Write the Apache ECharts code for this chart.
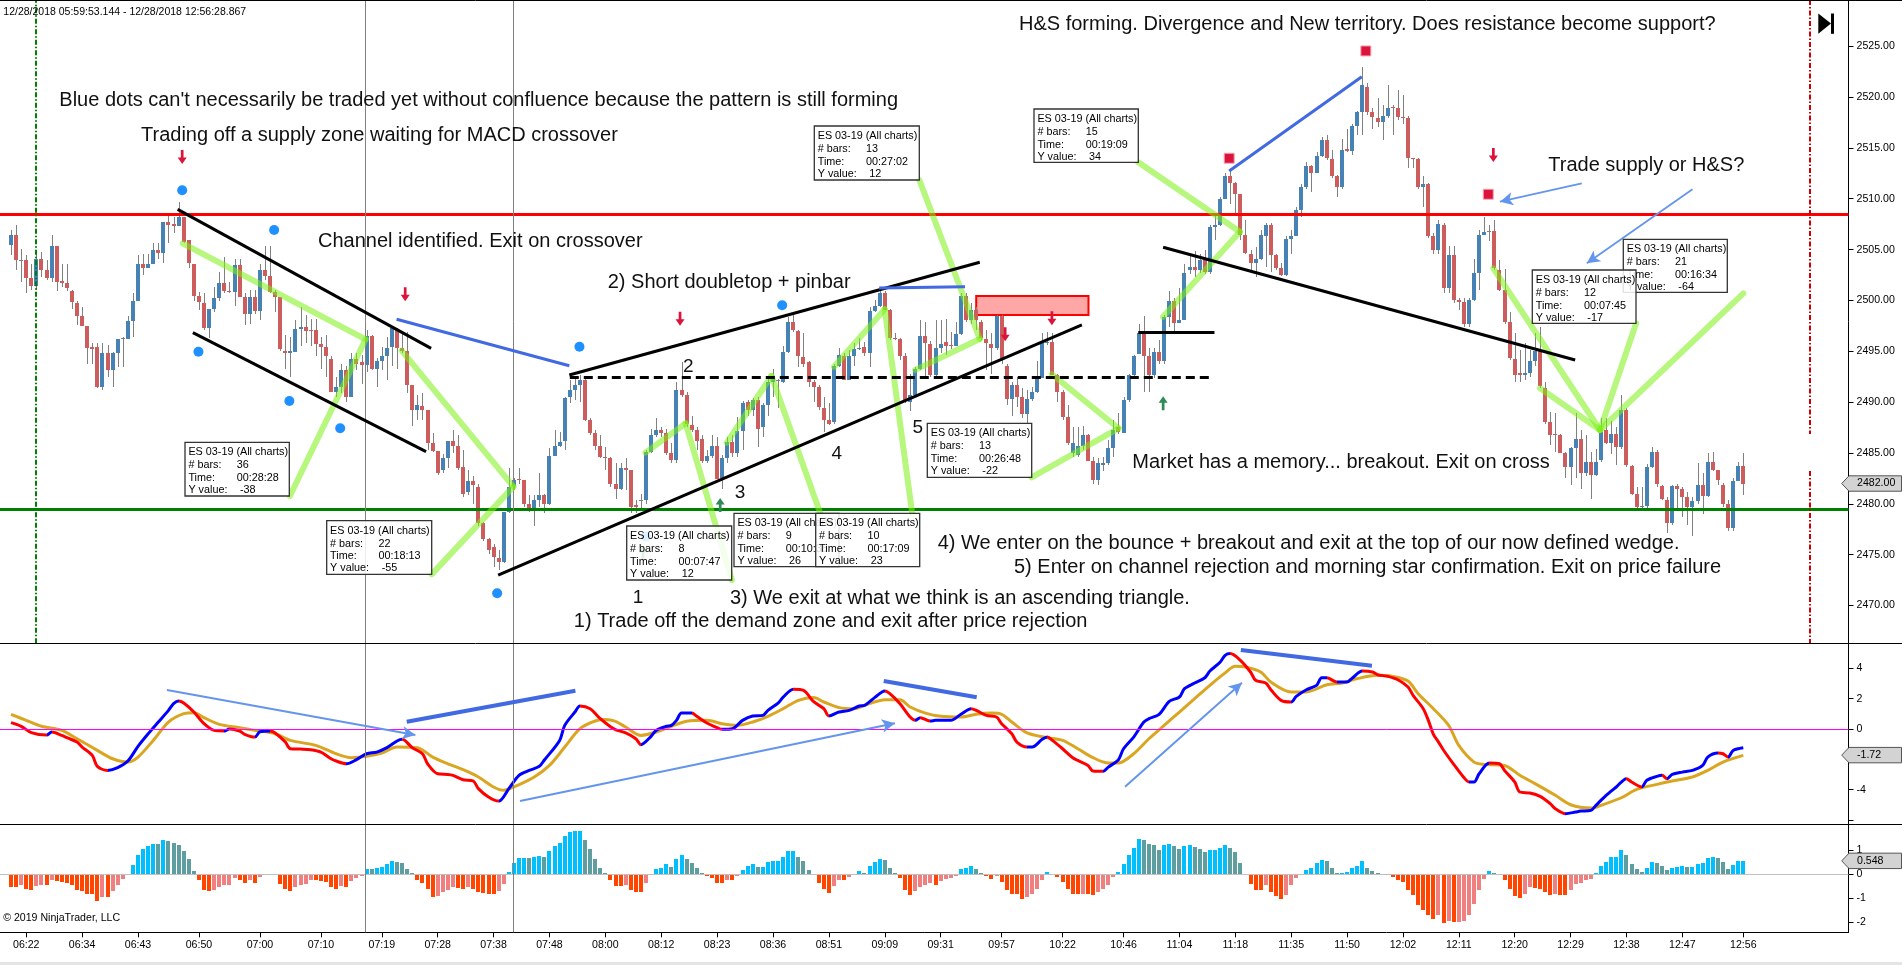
<!DOCTYPE html>
<html><head><meta charset="utf-8">
<script src="https://cdn.jsdelivr.net/npm/echarts@6/dist/echarts.min.js"></script>
<style>html,body{margin:0;padding:0;background:#fff}#c{width:1902px;height:965px}</style>
</head><body><div id="c"></div>
<script>
// ---------- DATA ----------
// candles: [open, close, low, high] per bar (index 0..341)
const candles = [
[2505.5,2506.4,2504.5,2506.9],[2506.4,2504.0,2503.0,2507.4],[2504.0,2504.0,2501.8,2505.1],[2504.0,2502.2,2500.7,2504.5],[2502.2,2501.4,2501.0,2503.6],
[2501.4,2504.1,2501.0,2504.8],[2504.1,2503.0,2502.3,2504.8],[2503.0,2502.2,2502.0,2504.0],[2502.2,2505.4,2501.8,2506.4],[2505.4,2501.8,2500.9,2505.4],
[2501.9,2501.7,2501.3,2503.6],[2501.7,2501.2,2500.9,2503.6],[2500.9,2499.8,2499.2,2501.0],[2499.7,2498.5,2497.6,2499.9],[2498.5,2497.5,2497.5,2499.4],
[2497.5,2495.3,2493.8,2497.5],[2495.4,2495.2,2493.8,2495.8],[2495.4,2491.5,2491.4,2495.8],[2491.5,2494.8,2491.2,2495.8],[2494.8,2493.2,2492.5,2495.6],
[2493.2,2494.8,2491.5,2494.9],[2494.8,2496.2,2493.5,2496.2],[2496.3,2496.3,2493.5,2496.4],[2496.2,2498.0,2496.2,2498.5],[2498.0,2499.9,2496.4,2500.7],
[2499.9,2503.6,2499.9,2504.5],[2503.6,2503.2,2502.5,2504.6],[2503.2,2503.6,2503.2,2504.6],[2503.6,2505.0,2503.6,2505.6],[2505.0,2504.7,2504.1,2505.6],
[2504.7,2507.7,2503.7,2507.7],[2507.7,2507.4,2505.6,2508.4],[2507.5,2507.3,2506.6,2508.2],[2507.3,2508.2,2507.3,2509.7],[2508.2,2505.7,2505.6,2508.2],
[2505.9,2503.7,2503.2,2505.9],[2503.6,2500.4,2499.9,2503.6],[2500.4,2499.8,2499.1,2500.8],[2499.7,2497.3,2497.1,2500.7],[2497.3,2499.2,2496.3,2499.2],
[2499.2,2500.2,2498.9,2501.3],[2500.2,2501.7,2499.9,2502.8],[2501.7,2500.9,2500.7,2504.3],[2500.9,2500.8,2500.7,2501.8],[2500.8,2503.5,2499.5,2504.1],
[2503.5,2500.3,2500.3,2504.1],[2500.3,2498.7,2497.6,2500.7],[2498.7,2500.3,2497.7,2501.0],[2500.3,2499.0,2498.7,2501.0],[2499.0,2503.0,2498.1,2503.6],
[2503.0,2502.4,2502.0,2505.4],[2502.4,2500.8,2500.7,2505.4],[2500.8,2500.3,2498.9,2501.0],[2500.3,2495.2,2495.0,2500.3],[2495.0,2494.8,2493.3,2496.6],
[2494.8,2495.0,2492.5,2496.4],[2494.9,2497.2,2494.9,2498.1],[2497.2,2497.4,2495.5,2499.4],[2497.4,2497.0,2495.8,2498.6],[2497.1,2497.0,2495.5,2498.2],
[2497.1,2495.7,2494.5,2498.2],[2495.7,2495.4,2493.3,2496.4],[2495.4,2494.5,2492.5,2496.6],[2494.2,2491.0,2491.0,2494.5],[2491.0,2491.5,2490.5,2492.5],
[2491.5,2493.2,2490.9,2493.8],[2493.2,2490.5,2490.0,2493.6],[2490.5,2494.2,2490.5,2494.8],[2494.2,2493.8,2493.2,2494.8],[2493.9,2493.7,2491.8,2494.6],
[2493.7,2496.5,2493.0,2497.1],[2496.5,2493.3,2493.2,2496.6],[2493.3,2494.0,2491.5,2494.3],[2494.0,2494.5,2493.2,2495.4],[2494.5,2495.3,2492.2,2496.4],
[2495.4,2497.3,2493.6,2497.3],[2497.1,2495.3,2493.3,2497.3],[2495.3,2495.0,2494.8,2496.9],[2495.0,2491.7,2490.9,2496.9],[2491.7,2489.2,2487.7,2491.7],
[2489.2,2489.7,2488.2,2490.7],[2489.6,2489.2,2488.2,2490.9],[2489.2,2486.0,2485.3,2489.2],[2486.0,2485.2,2485.1,2487.0],[2485.2,2483.0,2482.8,2485.2],
[2483.3,2484.5,2483.0,2484.9],[2484.5,2486.2,2483.5,2486.2],[2486.2,2485.7,2485.0,2487.3],[2485.7,2483.5,2483.3,2486.8],[2483.6,2481.0,2480.7,2485.3],
[2481.2,2482.2,2480.9,2483.3],[2482.2,2481.9,2480.0,2482.7],[2481.7,2478.1,2477.8,2482.0],[2478.1,2476.5,2476.3,2478.2],[2476.5,2475.5,2475.1,2476.6],
[2475.8,2474.8,2473.8,2476.1],[2474.7,2474.3,2473.5,2475.5],[2474.3,2479.2,2474.2,2479.2],[2479.2,2481.7,2479.1,2483.5],[2481.8,2482.3,2481.4,2482.5],
[2482.4,2482.3,2482.0,2483.5],[2482.3,2480.0,2479.7,2482.3],[2480.0,2479.3,2479.2,2480.9],[2479.3,2480.4,2477.8,2480.9],[2480.4,2480.9,2479.7,2483.0],
[2480.9,2480.0,2479.1,2481.0],[2480.0,2484.7,2479.9,2485.5],[2484.7,2485.7,2484.7,2487.3],[2485.7,2486.1,2485.6,2487.1],[2486.2,2490.4,2485.3,2490.5],
[2490.5,2491.2,2489.9,2492.2],[2491.2,2491.7,2490.2,2492.5],[2491.7,2492.2,2490.0,2492.7],[2492.2,2488.2,2488.1,2492.3],[2488.2,2487.0,2486.8,2488.4],
[2487.0,2485.7,2485.3,2487.3],[2485.7,2484.6,2484.5,2486.8],[2484.6,2484.5,2483.3,2485.6],[2484.5,2482.0,2481.7,2484.6],[2482.0,2481.5,2480.5,2484.0],
[2481.5,2483.5,2481.4,2484.0],[2483.5,2483.3,2481.4,2484.5],[2483.3,2479.7,2479.1,2483.3],[2479.9,2479.7,2479.1,2480.4],[2480.4,2480.4,2479.6,2481.0],
[2480.4,2485.1,2480.0,2485.3],[2485.1,2486.8,2485.0,2487.4],[2486.8,2487.3,2486.6,2488.4],[2487.3,2487.0,2486.6,2487.6],[2487.0,2485.0,2484.8,2487.4],
[2485.0,2484.3,2484.0,2486.0],[2484.3,2491.2,2484.0,2492.0],[2491.2,2490.7,2490.5,2493.9],[2490.7,2487.9,2487.6,2491.0],[2487.8,2487.3,2487.1,2488.6],
[2487.3,2486.2,2485.3,2487.6],[2486.4,2484.2,2484.0,2486.8],[2484.2,2484.7,2484.0,2485.3],[2484.7,2485.7,2484.5,2486.8],[2485.7,2482.4,2482.4,2486.6],
[2482.5,2484.5,2481.5,2484.8],[2484.5,2486.1,2484.0,2486.6],[2486.1,2485.0,2484.6,2486.8],[2485.0,2487.2,2484.6,2488.5],[2487.2,2489.9,2485.3,2490.1],
[2490.0,2489.2,2488.6,2490.2],[2489.2,2490.2,2488.6,2490.4],[2490.2,2487.4,2485.6,2490.5],[2487.6,2489.7,2486.6,2489.9],[2489.7,2492.0,2488.6,2492.3],
[2492.0,2492.6,2490.5,2493.3],[2492.2,2492.2,2489.4,2492.3],[2492.0,2494.9,2491.9,2495.5],[2494.9,2497.9,2494.8,2498.4],[2497.9,2497.1,2496.9,2498.6],
[2497.0,2494.5,2493.5,2497.1],[2494.4,2493.8,2493.5,2496.8],[2493.9,2492.0,2491.5,2494.0],[2492.0,2491.5,2490.0,2492.2],[2491.5,2489.5,2489.2,2491.7],
[2489.4,2488.2,2487.1,2490.5],[2488.2,2487.9,2487.8,2489.9],[2488.0,2493.6,2487.9,2493.8],[2493.6,2494.6,2493.5,2495.3],[2494.5,2492.2,2492.2,2494.8],
[2492.2,2494.5,2492.2,2495.1],[2494.5,2495.2,2493.6,2495.8],[2495.2,2495.3,2495.1,2496.3],[2495.4,2494.8,2494.5,2495.9],[2494.8,2499.0,2493.5,2499.4],
[2499.0,2499.5,2498.9,2500.0],[2499.5,2500.7,2499.4,2501.0],[2500.7,2499.1,2499.1,2500.9],[2499.1,2496.3,2496.1,2499.2],[2496.3,2496.2,2496.1,2496.8],
[2496.2,2494.5,2494.1,2496.3],[2494.5,2490.2,2489.9,2494.8],[2490.0,2490.7,2489.1,2492.8],[2490.7,2493.3,2490.7,2493.5],[2493.3,2496.5,2493.2,2498.1],
[2496.5,2495.8,2492.5,2497.9],[2495.7,2492.7,2492.5,2496.0],[2492.7,2495.3,2492.5,2498.1],[2495.3,2495.7,2494.8,2498.1],[2495.9,2495.5,2494.6,2498.2],
[2495.6,2495.5,2495.2,2496.9],[2495.5,2496.7,2495.5,2497.9],[2496.7,2500.4,2496.6,2500.7],[2500.4,2498.1,2497.9,2500.7],[2498.1,2499.1,2497.7,2499.7],
[2499.1,2498.1,2497.1,2499.4],[2497.9,2496.3,2496.1,2498.1],[2496.2,2495.8,2493.2,2497.1],[2495.7,2495.3,2492.8,2496.8],[2495.3,2498.5,2495.1,2498.6],
[2498.5,2494.3,2493.8,2498.6],[2493.6,2490.3,2489.7,2493.8],[2490.3,2491.7,2488.6,2492.0],[2491.7,2490.5,2489.5,2492.5],[2490.5,2488.8,2488.4,2491.4],
[2488.8,2490.3,2487.9,2491.2],[2490.3,2491.0,2490.1,2491.5],[2491.0,2492.4,2490.9,2494.0],[2492.4,2495.8,2492.4,2496.8],[2495.8,2495.9,2495.6,2496.9],
[2495.9,2492.7,2492.7,2496.8],[2492.7,2491.0,2490.0,2492.8],[2491.0,2488.5,2488.2,2491.2],[2488.5,2486.0,2485.8,2489.7],[2485.0,2486.0,2484.6,2487.6],
[2484.8,2485.7,2484.6,2487.6],[2485.7,2486.8,2485.3,2487.7],[2486.8,2484.2,2484.2,2486.9],[2484.2,2482.3,2482.0,2484.6],[2482.3,2484.0,2481.9,2484.5],
[2483.8,2484.0,2483.2,2484.6],[2484.0,2485.5,2483.8,2486.3],[2485.5,2487.3,2484.6,2488.2],[2487.6,2487.1,2486.9,2488.9],[2487.0,2490.2,2487.0,2490.5],
[2490.2,2492.7,2490.0,2492.8],[2492.7,2494.5,2492.5,2494.6],[2494.7,2496.8,2494.7,2497.7],[2496.8,2494.5,2491.0,2498.5],[2494.5,2492.7,2491.0,2495.3],
[2492.7,2494.9,2492.4,2495.3],[2494.9,2494.0,2493.8,2496.1],[2494.0,2498.4,2493.8,2498.6],[2498.4,2499.9,2497.4,2500.9],[2499.9,2497.8,2496.9,2500.2],
[2497.8,2498.1,2497.8,2501.2],[2498.1,2502.7,2498.1,2503.6],[2503.0,2503.3,2502.6,2504.6],[2503.3,2503.0,2502.3,2504.9],[2503.0,2504.0,2502.7,2504.6],
[2504.0,2502.8,2502.6,2505.0],[2502.8,2507.2,2502.6,2507.4],[2507.2,2507.4,2505.9,2508.6],[2507.4,2510.0,2507.3,2510.2],[2510.0,2512.2,2510.0,2512.5],
[2512.2,2511.5,2509.5,2512.7],[2511.5,2510.5,2508.6,2511.6],[2510.5,2506.4,2505.9,2510.5],[2506.4,2504.7,2504.6,2507.9],[2504.6,2503.7,2502.7,2505.0],
[2503.7,2504.1,2502.3,2505.3],[2504.1,2506.4,2504.0,2506.9],[2506.3,2507.4,2503.3,2507.6],[2507.4,2504.5,2502.8,2507.6],[2504.5,2503.2,2503.0,2504.6],
[2503.2,2502.5,2502.4,2503.7],[2502.5,2506.0,2502.4,2506.3],[2506.0,2506.3,2504.6,2506.9],[2506.3,2508.9,2506.3,2509.2],[2508.9,2511.2,2508.2,2511.4],
[2511.2,2513.2,2511.0,2513.6],[2513.2,2512.5,2510.7,2513.3],[2512.5,2514.2,2512.5,2514.6],[2514.2,2515.8,2514.1,2516.1],[2515.8,2514.0,2513.8,2516.3],
[2513.9,2512.2,2512.0,2514.8],[2512.2,2511.2,2510.2,2512.3],[2511.2,2514.8,2511.0,2515.9],[2514.9,2514.7,2514.6,2516.9],[2514.7,2517.2,2514.3,2517.3],
[2517.2,2518.5,2516.3,2518.6],[2518.5,2521.2,2516.3,2523.0],[2521.0,2518.5,2518.2,2521.4],[2518.5,2518.0,2516.9,2518.9],[2517.9,2517.5,2517.1,2519.9],
[2517.5,2518.1,2515.8,2519.2],[2518.1,2518.9,2517.9,2521.2],[2519.0,2518.9,2516.3,2519.2],[2518.9,2518.0,2517.7,2520.7],[2518.0,2517.9,2517.3,2520.2],
[2517.9,2514.0,2513.0,2518.1],[2514.0,2513.9,2513.0,2514.0],[2513.9,2511.2,2511.0,2514.0],[2511.2,2511.4,2509.2,2512.2],[2511.4,2506.3,2506.1,2511.5],
[2506.3,2505.0,2504.6,2506.6],[2505.0,2507.5,2504.6,2507.9],[2507.4,2501.2,2500.7,2507.6],[2501.2,2504.5,2500.7,2505.4],[2504.5,2500.0,2499.7,2505.4],
[2500.0,2499.8,2499.1,2500.2],[2499.8,2497.7,2497.4,2500.2],[2497.7,2500.0,2497.4,2500.2],[2500.0,2502.7,2499.9,2504.1],[2502.7,2506.4,2501.0,2506.9],
[2506.4,2506.7,2506.4,2508.2],[2506.8,2506.8,2505.8,2507.4],[2506.8,2503.2,2503.0,2507.9],[2503.0,2501.0,2500.9,2504.0],[2501.0,2497.9,2497.7,2503.1],
[2497.9,2494.3,2494.1,2498.9],[2494.2,2492.7,2492.0,2496.8],[2492.9,2492.7,2492.0,2495.1],[2492.7,2492.9,2492.2,2495.8],[2492.9,2494.0,2492.5,2495.1],
[2494.0,2495.0,2493.6,2496.8],[2495.0,2491.6,2491.4,2497.4],[2491.4,2488.0,2487.9,2492.0],[2488.0,2486.8,2485.8,2489.0],[2486.9,2486.8,2485.1,2488.9],
[2486.8,2485.0,2485.0,2486.9],[2485.0,2483.6,2482.5,2485.1],[2483.6,2485.5,2481.9,2485.6],[2485.5,2486.4,2482.5,2488.9],[2486.4,2483.0,2481.5,2487.3],
[2483.0,2484.1,2482.7,2486.8],[2484.1,2482.8,2480.5,2485.1],[2482.8,2484.1,2482.7,2485.4],[2484.3,2487.1,2484.1,2488.4],[2487.3,2486.0,2485.9,2488.4],
[2486.0,2486.9,2484.9,2488.1],[2486.9,2485.6,2483.8,2487.6],[2485.6,2489.2,2485.4,2490.7],[2489.2,2483.8,2483.6,2489.4],[2483.7,2481.0,2480.9,2483.8],
[2481.0,2479.7,2479.6,2481.7],[2479.7,2479.8,2479.6,2481.7],[2479.8,2483.6,2479.6,2483.9],[2483.6,2485.1,2483.5,2485.6],[2485.1,2482.0,2481.7,2485.3],
[2481.8,2480.5,2480.4,2481.9],[2480.4,2478.1,2477.1,2480.7],[2478.1,2481.8,2477.9,2481.9],[2481.8,2481.5,2479.5,2482.0],[2481.5,2480.7,2478.7,2481.7],
[2480.7,2479.7,2477.9,2481.2],[2479.7,2480.3,2476.8,2480.7],[2480.3,2481.9,2480.0,2484.0],[2481.9,2480.8,2479.0,2483.0],[2480.8,2484.1,2480.7,2485.0],
[2484.1,2483.3,2483.2,2485.1],[2483.3,2482.3,2481.9,2483.3],[2481.9,2480.0,2479.7,2482.1],[2480.0,2477.6,2477.3,2480.4],[2477.6,2482.2,2477.3,2482.5],
[2482.2,2483.7,2482.2,2484.1],[2483.7,2482.0,2480.9,2485.0]
];
// MACD line samples [bar, value]
const macdPts = [[0,0.42],[2,0.18],[4,-0.24],[7,-0.40],[8,-0.20],[10,-0.42],[11,-0.57],[13,-0.86],[14,-1.19],[16,-1.74],[17,-2.46],[19,-2.73],[21,-2.55],[23,-2.11],[25,-1.14],[27,-0.31],[29,0.46],[31,1.23],[32,1.67],[33,1.85],[34,1.71],[36,1.12],[38,0.35],[40,-0.09],[42,-0.13],[43,0.0],[45,-0.13],[46,-0.35],[48,-0.53],[49,-0.18],[51,-0.13],[52,-0.26],[54,-0.86],[55,-1.30],[57,-1.32],[59,-1.36],[61,-1.52],[63,-1.96],[64,-2.11],[66,-2.29],[68,-2.02],[70,-1.63],[72,-1.52],[74,-1.23],[76,-0.79],[77,-0.68],[79,-1.23],[81,-1.63],[82,-2.29],[84,-2.95],[86,-2.99],[87,-3.05],[89,-3.34],[91,-3.43],[92,-3.93],[94,-4.48],[96,-4.75],[98,-3.93],[100,-3.05],[102,-2.73],[104,-2.46],[105,-2.04],[108,-0.75],[109,0.24],[111,1.12],[112,1.52],[114,1.34],[116,0.68],[118,0.15],[119,-0.04],[121,-0.26],[123,-0.64],[124,-1.03],[126,-0.48],[127,-0.09],[129,0.18],[130,0.24],[131,0.57],[132,1.05],[134,1.05],[135,0.84],[137,0.40],[139,0.09],[140,-0.02],[142,0.02],[144,0.57],[146,0.86],[148,0.90],[149,1.23],[151,1.71],[152,2.10],[154,2.62],[156,2.55],[158,1.80],[160,1.34],[161,0.86],[163,1.12],[165,1.23],[167,1.52],[168,1.56],[170,2.07],[172,2.51],[173,2.33],[175,1.67],[177,0.79],[178,0.57],[179,0.75],[181,0.53],[182,0.57],[185,0.57],[187,0.97],[189,1.34],[190,1.23],[192,0.90],[194,0.79],[195,0.35],[197,-0.31],[198,-0.86],[200,-1.19],[201,-1.19],[203,-0.68],[204,-0.53],[205,-0.75],[207,-1.30],[209,-1.89],[210,-2.07],[212,-2.40],[213,-2.77],[215,-2.79],[216,-2.51],[218,-2.02],[219,-1.30],[221,-0.53],[223,0.46],[224,0.68],[226,0.97],[228,1.82],[230,2.11],[231,2.66],[233,3.03],[235,3.38],[236,3.82],[238,4.40],[239,4.86],[240,4.97],[242,4.53],[244,3.76],[245,3.21],[247,3.03],[248,2.59],[250,1.89],[252,1.78],[253,2.15],[255,2.59],[257,2.88],[258,3.38],[259,3.38],[261,3.10],[263,3.10],[264,3.35],[266,3.82],[268,3.76],[269,3.58],[271,3.47],[273,3.25],[275,2.77],[276,2.22],[278,1.34],[279,0.57],[280,-0.35],[281,-0.86],[282,-1.40],[284,-2.33],[286,-3.20],[287,-3.49],[288,-3.49],[289,-2.95],[291,-2.24],[293,-2.29],[294,-2.73],[296,-3.49],[297,-4.15],[299,-4.22],[301,-4.44],[303,-4.92],[304,-5.25],[306,-5.58],[308,-5.47],[309,-5.41],[311,-5.36],[312,-5.03],[314,-4.37],[316,-3.82],[318,-3.27],[319,-3.49],[321,-3.82],[322,-3.38],[324,-3.12],[325,-3.05],[326,-3.27],[327,-2.99],[329,-2.84],[331,-2.73],[333,-2.40],[334,-1.85],[336,-1.58],[337,-1.63],[338,-1.85],[339,-1.41],[341,-1.23]];
// MACD signal (average) samples [bar, value]
const signalPts = [[0,0.97],[3,0.57],[6,0.18],[10,-0.09],[13,-0.64],[17,-1.41],[20,-1.96],[23,-2.18],[25,-1.85],[28,-0.75],[31,0.46],[34,1.01],[36,1.08],[38,0.75],[41,0.31],[45,0.09],[48,-0.09],[52,-0.31],[55,-0.75],[60,-1.08],[64,-1.63],[67,-1.89],[70,-1.80],[73,-1.58],[76,-1.19],[80,-1.23],[83,-1.85],[86,-2.29],[89,-2.68],[92,-3.16],[95,-3.82],[97,-4.04],[99,-3.82],[103,-3.16],[106,-2.40],[109,-1.19],[112,0.02],[115,0.53],[117,0.62],[119,0.50],[121,0.13],[124,-0.42],[127,-0.20],[130,0.18],[133,0.51],[137,0.57],[140,0.35],[143,0.24],[146,0.46],[149,0.84],[152,1.34],[155,1.89],[158,2.07],[160,1.78],[163,1.41],[166,1.34],[169,1.67],[172,1.93],[175,1.93],[177,1.45],[180,1.05],[183,0.84],[187,0.79],[190,0.97],[193,1.05],[195,0.97],[197,0.46],[200,-0.26],[204,-0.57],[207,-0.75],[210,-1.30],[213,-1.89],[216,-2.24],[218,-2.24],[221,-1.63],[224,-0.64],[227,0.24],[230,1.12],[233,2.00],[236,2.88],[239,3.70],[241,4.13],[243,4.09],[246,3.76],[248,3.10],[252,2.44],[255,2.44],[259,2.92],[262,3.03],[265,3.32],[269,3.54],[272,3.47],[275,3.16],[277,2.33],[280,1.34],[283,0.24],[285,-1.08],[288,-2.18],[290,-2.33],[294,-2.40],[297,-3.05],[300,-3.60],[304,-4.37],[307,-4.99],[311,-5.21],[313,-5.03],[317,-4.53],[320,-3.98],[324,-3.65],[327,-3.43],[331,-3.16],[334,-2.73],[337,-2.18],[341,-1.74]];
// MACD histogram (diff), one per bar
const histVals = [
-0.54,-0.54,-0.47,-0.61,-0.66,-0.50,-0.47,-0.47,-0.24,-0.29,-0.33,-0.36,-0.45,-0.66,-0.71,-0.82,-0.85,-1.13,-0.96,-0.96,-0.71,-0.47,-0.22,
0.01,0.36,0.78,1.03,1.16,1.27,1.24,1.41,1.37,1.30,1.20,0.96,0.61,0.11,
-0.24,-0.66,-0.71,-0.66,-0.54,-0.47,-0.45,-0.17,-0.24,-0.36,-0.26,-0.38,-0.13,
0.01,0.00,
-0.04,-0.40,-0.61,-0.71,-0.54,-0.47,-0.40,-0.26,-0.26,-0.29,-0.33,-0.54,-0.61,-0.52,-0.54,-0.29,-0.18,-0.07,
0.22,0.20,0.25,0.29,0.40,0.53,0.50,0.46,0.22,0.06,
-0.24,-0.38,-0.61,-0.96,-0.93,-0.75,-0.68,-0.54,-0.57,-0.61,-0.54,-0.61,-0.75,-0.79,-0.82,-0.85,-0.71,-0.40,
0.08,0.46,0.68,0.68,0.67,0.71,0.74,0.71,0.95,1.16,1.31,1.58,1.76,1.79,1.79,1.41,1.03,0.64,0.26,0.04,
-0.24,-0.52,-0.52,-0.45,-0.66,-0.75,-0.75,-0.38,-0.05,
0.22,0.27,0.40,0.29,0.61,0.78,0.61,0.46,0.27,0.02,
-0.10,-0.15,-0.36,-0.36,-0.24,-0.24,-0.08,
0.18,0.32,0.40,0.29,0.29,0.50,0.53,0.53,0.71,0.95,0.95,0.71,0.53,0.18,
-0.03,-0.38,-0.61,-0.80,-0.52,-0.24,-0.27,-0.13,
0.01,0.11,0.04,0.32,0.50,0.61,0.57,0.26,0.05,
-0.15,-0.68,-0.89,-0.71,-0.54,-0.45,-0.36,-0.45,-0.29,-0.21,-0.17,-0.07,
0.22,0.25,0.32,0.20,0.06,
-0.07,-0.21,-0.07,-0.33,-0.68,-0.82,-0.85,-1.03,-0.96,-0.85,-0.61,-0.24,
0.08,
-0.02,-0.13,-0.33,-0.61,-0.82,-0.85,-0.82,-0.82,-0.89,-0.75,-0.61,-0.45,-0.13,
0.08,0.40,0.78,1.10,1.45,1.41,1.27,1.20,1.02,1.20,1.27,1.17,1.03,1.17,1.20,1.13,1.06,0.92,0.99,0.99,1.10,1.20,1.10,0.92,0.46,
-0.03,-0.40,-0.66,-0.66,-0.47,-0.75,-0.93,-1.03,-0.89,-0.47,-0.15,-0.05,
0.15,0.27,0.46,0.57,0.53,0.27,0.06,0.06,0.08,0.27,0.33,0.54,0.25,0.13,0.05,
0.00,
-0.03,-0.13,-0.24,-0.33,-0.66,-0.89,-1.28,-1.49,-1.73,-1.87,-1.73,-2.06,-1.95,-2.02,-1.99,-1.97,-1.73,-1.24,-0.66,-0.20,
0.11,0.06,0.01,
-0.24,-0.61,-0.93,-0.99,-0.85,-0.54,-0.57,-0.61,-0.75,-0.89,-0.85,-0.89,-0.89,-0.66,-0.43,-0.38,-0.26,-0.20,
0.02,0.33,0.50,0.71,0.71,1.02,0.81,0.43,0.22,0.08,0.25,0.50,0.47,0.33,0.15,0.25,0.29,0.33,0.29,0.29,0.43,0.46,0.68,0.71,0.67,0.50,0.22,0.36,0.53,0.548
];
const macdLast = -1.72;
// tick labels
const priceTicks = [2470,2475,2480,2485,2490,2495,2500,2505,2510,2515,2520,2525];
const macdTicks = [-6,-4,-2,0,2,4];
const macdLabels = [-4,0,2,4];
const histTicks = [-2,-1,0,1];
const xTickIdx = [3,14,25,37,49,61,73,84,95,106,117,128,139,150,161,172,183,195,207,219,230,241,252,263,274,285,296,307,318,329,341];
const xTickLbl = ["06:22","06:34","06:43","06:50","07:00","07:10","07:19","07:28","07:38","07:48","08:00","08:12","08:23","08:36","08:51","09:09","09:31","09:57","10:22","10:46","11:04","11:18","11:35","11:50","12:02","12:11","12:20","12:29","12:38","12:47","12:56"];
// levels and drawing objects in data coordinates [bar, price]
const supplyLevel = 2508.5, demandLevel = 2479.5;
const blackLines = [[[32.8,2508.96],[82.7,2495.29]],[[35.8,2496.83],[81.7,2485.13]],[[109.9,2492.67],[190.7,2503.75]],[[95.9,2473.0],[210.8,2497.59]],[[226.8,2505.23],[307.9,2494.14]],[[221.9,2496.87],[236.9,2496.87]]];
const dashedLine = [[110.0,2492.44],[236.7,2492.44]];
const blueLines = [[[75.9,2498.15],[109.9,2493.58]],[[170.9,2501.22],[187.8,2501.35]],[[239.8,2512.73],[265.9,2522.0]]];
const rulerLines = [
[[33.8,2505.62],[69.8,2496.18]],[[69.8,2496.18],[54.9,2480.77]],
[[76.9,2495.06],[98.9,2481.69]],[[98.9,2481.69],[82.8,2473.07]],
[[124.9,2485.03],[132.8,2487.92]],[[132.8,2487.92],[141.9,2472.51]],
[[140.9,2486.01],[149.7,2492.57]],[[149.7,2492.57],[159.3,2479.07]],
[[162.0,2493.49],[172.0,2499.13]],[[172.0,2499.13],[177.4,2479.07]],
[[178.0,2493.17],[190.7,2496.21]],[[190.7,2496.21],[178.8,2511.84]],
[[204.9,2492.74],[218.0,2487.43]],[[218.0,2487.43],[200.9,2482.61]],
[[226.8,2498.40],[241.9,2506.76]],[[241.9,2506.76],[221.9,2513.58]],
[[291.8,2503.16],[312.8,2487.26]],[[312.8,2487.26],[319.9,2497.75]],
[[301.0,2491.36],[312.8,2487.26]],[[312.8,2487.26],[341.0,2500.70]]
];
const priceArrows = [[[309.2,2511.52],[293.1,2509.71]],[[331.0,2510.93],[310.2,2503.65]]];
const supplyZone = [[190.0,2500.44],[212.1,2498.57]];
const blueDots = [[33.7,2510.83],[51.8,2506.93],[36.9,2494.96],[54.8,2490.11],[64.8,2487.43],[111.9,2495.45],[151.8,2499.52],[95.7,2471.21],[125.0,2476.8]];
const downArrows = [[33.7,2514.1],[77.6,2500.6],[131.7,2498.2],[195.7,2496.67],[204.9,2498.24],[291.8,2514.3]];
const upArrows = [[139.6,2479.89],[226.8,2489.89],[124.4,2475.2]];
const redSquares = [[239.8,2513.98],[266.7,2524.53],[290.8,2510.44]];
const sessionStart = 4.92, sessionEnd = 354.1, markerBars = [69.8, 98.9];
const macdThin = [[[30.7,2.57],[79.6,-0.40]],[[100.2,-4.75],[174.0,0.38]],[[219.3,-3.80],[242.3,3.05]]];
const macdThick = [[[77.9,0.48],[111.1,2.52]],[[171.8,3.16],[190.1,2.09]],[[242.1,5.21],[267.9,4.17]]];
const rulerInfo = [["36","00:28:28","-38"],["22","00:18:13","-55"],["8","00:07:47","12"],["9","00:10:38","26"],["10","00:17:09","23"],["13","00:27:02","12"],["15","00:19:09","34"],["13","00:26:48","-22"],["21","00:16:34","-64"],["12","00:07:45","-17"]];

// ---------- LAYOUT / STYLE ----------
const FONT = '"Liberation Sans", Arial, sans-serif';
const XMIN = -2.1653, XMAX = 361.71;
const UP = '#4682B4', DOWN = '#CD5C5C';
const grids = [
  {left:0, right:53.5, top:0, height:643.3},
  {left:0, right:53.5, top:643.3, height:180.7},
  {left:0, right:53.5, top:824, height:108.3}
];
const lblStyle = {color:'#000', fontSize:10.6, fontFamily:FONT};
function xAx(g, show){
  return {type:'value', gridIndex:g, min:XMIN, max:XMAX, splitLine:{show:false},
    axisLine:{show:show, onZero:false, lineStyle:{color:'#000', width:1}},
    axisTick:{show:show, length:5, lineStyle:{color:'#000'}, customValues:xTickIdx},
    axisLabel:{show:show, customValues:xTickIdx, margin:7, ...lblStyle,
      formatter:v=>{const k=xTickIdx.indexOf(Math.round(v)); return k>=0?xTickLbl[k]:'';}}};
}
function yAx(g, min, max, ticks, labels, fmt){
  return {type:'value', gridIndex:g, position:'right', min, max, scale:true, splitLine:{show:false},
    axisLine:{show:true, onZero:false, lineStyle:{color:'#000', width:1}},
    axisTick:{show:true, length:5, customValues:ticks, lineStyle:{color:'#000'}},
    axisLabel:{customValues:labels, margin:8, ...lblStyle, formatter:fmt}};
}
const seg = (p, style, sym) => [{coord:p[0], symbol:'none'}, {coord:p[1], symbol: sym||'none', symbolSize:[10,13], lineStyle:style}];
const ml = (data) => ({silent:true, animation:false, symbol:'none', label:{show:false}, emphasis:{disabled:true}, data});

const black = {color:'#000', width:3, type:'solid'};
const priceLines = [];
priceLines.push({yAxis:supplyLevel, lineStyle:{color:'#FF0000', width:3, type:'solid'}});
priceLines.push({yAxis:demandLevel, lineStyle:{color:'#008000', width:3, type:'solid'}});
markerBars.forEach(b=>priceLines.push({xAxis:b, lineStyle:{color:'#808080', width:1, type:'solid'}}));
priceLines.push({xAxis:sessionStart, lineStyle:{color:'#008000', width:2, type:[5,2,1.5,2]}});
priceLines.push(seg([[sessionEnd,2529.54],[sessionEnd,2486.87]], {color:'#CC0000', width:2, type:[5,2,1.5,2]}));
priceLines.push(seg([[sessionEnd,2483.23],[sessionEnd,2466.29]], {color:'#CC0000', width:2, type:[5,2,1.5,2]}));
rulerLines.forEach(p=>priceLines.push(seg(p, {color:'rgba(124,240,20,0.55)', width:6, type:'solid', cap:'round'})));
blackLines.forEach(p=>priceLines.push(seg(p, black)));
priceLines.push(seg(dashedLine, {color:'#000', width:3, type:[9,5]}));
blueLines.forEach(p=>priceLines.push(seg(p, {color:'#4169E1', width:3, type:'solid'})));
priceArrows.forEach(p=>priceLines.push(seg(p, {color:'#6495ED', width:1.8, type:'solid'}, 'arrow')));

const macdLines = [{yAxis:0, lineStyle:{color:'#FF00FF', width:1, type:'solid'}}];
markerBars.forEach(b=>macdLines.push({xAxis:b, lineStyle:{color:'#808080', width:1, type:'solid'}}));
macdThin.forEach(p=>macdLines.push(seg(p, {color:'#6495ED', width:2, type:'solid'}, 'arrow')));
macdThick.forEach(p=>macdLines.push(seg(p, {color:'#4169E1', width:4, type:'solid'})));
const histLines = [{yAxis:0, lineStyle:{color:'#C0C0C0', width:1, type:'solid'}}];
markerBars.forEach(b=>histLines.push({xAxis:b, lineStyle:{color:'#808080', width:1, type:'solid'}}));

// MACD colour: blue rising, red falling
const macdPieces = [];
for (let k=0;k<macdPts.length-1;k++){
  const color = macdPts[k+1][1] >= macdPts[k][1] ? '#0000FF' : '#FF0000';
  const last = macdPieces[macdPieces.length-1];
  if (last && last.color===color) last.lt = macdPts[k+1][0];
  else macdPieces.push({gte:macdPts[k][0], lt:macdPts[k+1][0], color});
}
macdPieces[macdPieces.length-1].lt = XMAX+10;

// histogram colour by sign and direction
const histColor = histVals.map((v,i)=>{
  const prev = i>0 ? histVals[i-1] : v;
  if (v>=0) return v>=prev ? '#00BFFF' : '#5F9EA0';
  return v<=prev ? '#FF4500' : '#F08080';
});

const series = [
  {type:'custom', name:'ES 03-19', xAxisIndex:0, yAxisIndex:0, z:2, clip:true, silent:true,
   data: candles.map((q,i)=>[i,q[0],q[1],q[2],q[3]]),
   encode:{x:0, y:[1,2,3,4]},
   renderItem:(params, api)=>{
     const i=api.value(0), o=api.value(1), c=api.value(2), l=api.value(3), h=api.value(4);
     const pO=api.coord([i,o]), pC=api.coord([i,c]), pL=api.coord([i,l]), pH=api.coord([i,h]);
     const xl=Math.round(pO[0]-2), wx=xl+2.5;
     let top=Math.round(Math.min(pO[1],pC[1])); let bot=Math.round(Math.max(pO[1],pC[1]));
     if (bot-top<1) bot=top+1;
     const col = c>o ? UP : (c<o ? DOWN : '#808080');
     return {type:'group', children:[
       {type:'line', shape:{x1:wx, y1:Math.round(pH[1]), x2:wx, y2:Math.round(pL[1])}, style:{stroke:'#808080', lineWidth:1}},
       {type:'rect', shape:{x:xl, y:top, width:4, height:bot-top}, style:{fill:col}}
     ]};
   }},
  {type:'line', xAxisIndex:0, yAxisIndex:0, data:[], z:3, silent:true,
   markArea:{silent:true, animation:false, label:{show:false},
     itemStyle:{color:'rgba(255,80,80,0.5)', borderColor:'#FF0000', borderWidth:2},
     data:[[{coord:supplyZone[0]},{coord:supplyZone[1]}]]}},
  {type:'line', xAxisIndex:0, yAxisIndex:0, data:[], z:4, silent:true, markLine: ml(priceLines)},
  {type:'scatter', xAxisIndex:0, yAxisIndex:0, z:6, silent:true, data:blueDots, symbol:'circle', symbolSize:10, itemStyle:{color:'#1E90FF', opacity:1}},
  {type:'scatter', xAxisIndex:0, yAxisIndex:0, z:6, silent:true, data:downArrows, symbol:'path://M3.5,0 L6.5,0 L6.5,8 L10,8 L5,15 L0,8 L3.5,8 Z', symbolSize:[9,14], itemStyle:{color:'#DC143C', opacity:1}},
  {type:'scatter', xAxisIndex:0, yAxisIndex:0, z:6, silent:true, data:upArrows, symbol:'path://M5,0 L10,7 L6.5,7 L6.5,15 L3.5,15 L3.5,7 L0,7 Z', symbolSize:[9,14], itemStyle:{color:'#2E8B57', opacity:1}},
  {type:'scatter', xAxisIndex:0, yAxisIndex:0, z:6, silent:true, data:redSquares, symbol:'rect', symbolSize:10, itemStyle:{color:'#DC143C', borderColor:'#F4A6B4', borderWidth:1, opacity:1}},
  {type:'line', name:'Avg', xAxisIndex:1, yAxisIndex:1, z:3, data:signalPts, smooth:0.3, showSymbol:false, silent:true, lineStyle:{color:'#DAA520', width:3}},
  {type:'line', name:'MACD', xAxisIndex:1, yAxisIndex:1, z:4, data:macdPts, smooth:0.3, showSymbol:false, silent:true, lineStyle:{width:3}},
  {type:'line', xAxisIndex:1, yAxisIndex:1, data:[], z:5, silent:true, markLine: ml(macdLines)},
  {type:'custom', name:'Diff', xAxisIndex:2, yAxisIndex:2, z:3, silent:true, clip:true,
   data: histVals.map((v,i)=>[i,v]), encode:{x:0, y:1},
   renderItem:(params, api)=>{
     const i=api.value(0), v=api.value(1);
     const p0=api.coord([i,0]), p1=api.coord([i,v]);
     const xl=Math.round(p0[0]-2);
     const y0=Math.round(p0[1]), y1=Math.round(p1[1]);
     const top=Math.min(y0,y1), h=Math.max(1,Math.abs(y1-y0));
     return {type:'rect', shape:{x:xl, y:top, width:4, height:h}, style:{fill:histColor[params.dataIndex]}};
   }},
  {type:'line', xAxisIndex:2, yAxisIndex:2, data:[], z:4, silent:true, markLine: ml(histLines)}
];
const MACD_IDX = 8;

const option = {
  animation:false,
  grid: grids,
  xAxis:[xAx(0,false), xAx(1,false), xAx(2,true)],
  yAxis:[
    yAx(0, 2466.29, 2529.54, priceTicks, priceTicks, v=>v.toFixed(2)),
    yAx(1, -6.26, 5.65, macdTicks, macdLabels, v=>String(v)),
    yAx(2, -2.44, 2.09, histTicks, histTicks, v=>String(v))
  ],
  visualMap:[{type:'piecewise', show:false, seriesIndex:MACD_IDX, dimension:0, pieces:macdPieces, outOfRange:{color:'#0000FF'}}],
  series
};
const chart = echarts.init(document.getElementById('c'), null, {renderer:'canvas'});
chart.setOption(option);

// ---------- ANNOTATIONS (layout in pixels) ----------
const G = [];
function txt(t,x,y,size,align,fill){
  G.push({type:'text', z:100, silent:true, style:{text:t, x, y, font:size+'px '+FONT, fill:fill||'#111',
    align:align||'left', textAlign:align||'left', verticalAlign:'middle', textVerticalAlign:'middle'}});
}
function hline(y,x1,x2){ G.push({type:'line', z:90, silent:true, shape:{x1,y1:y,x2,y2:y}, style:{stroke:'#000', lineWidth:1}}); }
hline(0.5,0,1902); hline(643.5,0,1902); hline(824.5,0,1902);
G.push({type:'rect', z:90, silent:true, shape:{x:0,y:962,width:1902,height:3}, style:{fill:'#e4e4e4'}});
txt('12/28/2018 05:59:53.144 - 12/28/2018 12:56:28.867', 3.3, 12, 10.5, 'left', '#000');
txt('\u00a9 2019 NinjaTrader, LLC', 3.2, 917.7, 10.6, 'left', '#000');
const notes = [
 ["Blue dots can't necessarily be traded yet without confluence because the pattern is still forming",59.3,100],
 ["Trading off a supply zone waiting for MACD crossover",141,135],
 ["Channel identified. Exit on crossover",318,241],
 ["2) Short doubletop + pinbar",607.7,282.7],
 ["H&S forming. Divergence and New territory. Does resistance become support?",1019,24.5],
 ["Trade supply or H&S?",1548.3,165],
 ["Market has a memory... breakout. Exit on cross",1132.3,462.3],
 ["4) We enter on the bounce + breakout and exit at the top of our now defined wedge.",937.7,543.3],
 ["5) Enter on channel rejection and morning star confirmation. Exit on price failure",1014,567],
 ["3) We exit at what we think is an ascending triangle.",730,598],
 ["1) Trade off the demand zone and exit after price rejection",573.8,621]
];
notes.forEach(n=>txt(n[0],n[1],n[2],20));
[["1",638,598],["2",688.3,366.7],["3",740,492.7],["4",836.7,453.3],["5",917.7,427.7]].forEach(n=>txt(n[0],n[1],n[2],19,'center'));
const boxPos = [[185,442.3,104.3,53.7],[326.7,520.7,105,53.6],[626.7,526,105,54],[734,513.3,105,53.4],[815.7,513.3,104,53.4],[814.3,126,105,54],[1034,109,104.3,53.3],[927.3,423.3,104.4,54],[1623.3,239.3,104,53],[1532.3,270,103.7,53.3]];
boxPos.forEach((b,k)=>{
  const z = 110 + k*2;
  const info = rulerInfo[k];
  G.push({type:'rect', z, silent:true, shape:{x:b[0],y:b[1],width:b[2],height:b[3]}, style:{fill:'rgba(255,255,255,0.86)', stroke:'#333', lineWidth:1.3}});
  const rows = [['ES 03-19 (All charts)',''],['# bars:',info[0]],['Time:',info[1]],['Y value:',info[2]]];
  const offs = [10,23,35.6,47.6];
  rows.forEach((r,j)=>{
    G.push({type:'text', z:z+1, silent:true, style:{text:r[0], x:b[0]+3.4, y:b[1]+offs[j], font:'10.8px '+FONT, fill:'#000', verticalAlign:'middle', textVerticalAlign:'middle'}});
    if (r[1]) G.push({type:'text', z:z+1, silent:true, style:{text:r[1], x:b[0]+(j===3?55:51.7), y:b[1]+offs[j], font:'10.8px '+FONT, fill:'#000', verticalAlign:'middle', textVerticalAlign:'middle'}});
  });
});
// play-to-end icon
G.push({type:'polygon', z:100, silent:true, shape:{points:[[1818.3,13.5],[1831,23.6],[1818.3,33.8]]}, style:{fill:'#000'}});
G.push({type:'rect', z:100, silent:true, shape:{x:1831,y:13.5,width:3,height:20.3}, style:{fill:'#000'}});
// value markers on the axis
function marker(y, label){
  G.push({type:'polygon', z:120, silent:true, shape:{points:[[1841.7,y],[1849,y-7.7],[1901.5,y-7.7],[1901.5,y+7.7],[1849,y+7.7]]}, style:{fill:'#D3D3D3', stroke:'#555', lineWidth:1}});
  G.push({type:'text', z:121, silent:true, style:{text:label, x:1857, y, font:'10.6px '+FONT, fill:'#000', verticalAlign:'middle', textVerticalAlign:'middle'}});
}
const lastClose = candles[candles.length-1][1];
marker(chart.convertToPixel({yAxisIndex:0}, lastClose), lastClose.toFixed(2));
marker(chart.convertToPixel({yAxisIndex:1}, macdLast), macdLast.toFixed(2));
const lastHist = histVals[histVals.length-1];
marker(chart.convertToPixel({yAxisIndex:2}, lastHist), lastHist.toFixed(3));
chart.setOption({graphic: G});
</script>
</body></html>
